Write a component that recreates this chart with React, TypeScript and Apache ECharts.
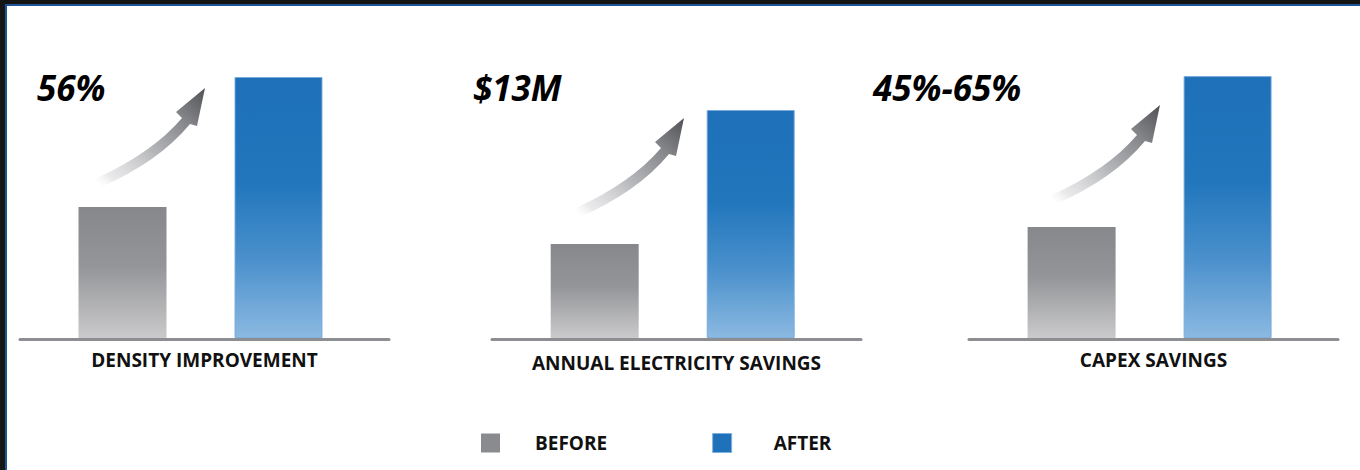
import React, { useEffect, useRef } from "react";
import * as echarts from "echarts";

// ---- data ----
const panels = ["DENSITY IMPROVEMENT", "ANNUAL ELECTRICITY SAVINGS", "CAPEX SAVINGS"];
const headlines = ["56%", "$13M", "45%-65%"];
const phases = ["BEFORE", "AFTER"];
const beforeValues = [43.7, 31.3, 37];
const afterValues = [87, 76, 87.3];

// ---- layout ----
const FONT = "'Open Sans', 'Noto Sans', sans-serif";
const barGridLeft = [44.5, 516.7, 993.6];
const barGridWidth = 312;
const baseLeft = [20, 492, 969];
const baseWidth = 369;
const nameGaps = [11, 14, 11];
const headlineLeft = [37, 473, 873];
const arrowPos = [
  [98, 183],
  [577, 213],
  [1053, 200],
];
const ARROW_D =
  "M -2 -4.5 Q 55 -30.7 84 -65 L 78 -71 L 107 -95 L 99 -57 L 92 -59 Q 61 -21.3 2 4.5 Z";

let registered = false;

export default function App() {
  const ref = useRef<HTMLDivElement>(null);

  useEffect(() => {
    if (!ref.current) return;
    if (!registered) {
      echarts.graphic.registerShape("logo", echarts.graphic.extendPath(ARROW_D, {}));
      registered = true;
    }
    const chart = echarts.init(ref.current, null, { renderer: "svg" });

    const grayGrad = new echarts.graphic.LinearGradient(0, 0, 0, 1, [
      { offset: 0, color: "#87888c" },
      { offset: 0.45, color: "#949598" },
      { offset: 1, color: "#cacacc" },
    ]);
    const blueGrad = new echarts.graphic.LinearGradient(0, 0, 0, 1, [
      { offset: 0, color: "#1e71b8" },
      { offset: 0.4, color: "#2176bc" },
      { offset: 0.7, color: "#4a90cc" },
      { offset: 1, color: "#8bb9e1" },
    ]);
    const arrowGrad = () =>
      new echarts.graphic.LinearGradient(0, 1, 1, 0, [
        { offset: 0, color: "rgba(255,255,255,0)" },
        { offset: 0.12, color: "rgba(225,225,227,0.7)" },
        { offset: 0.45, color: "#b4b5b8" },
        { offset: 0.75, color: "#848589" },
        { offset: 1, color: "#515256" },
      ]);

    const grid: any[] = [];
    const xAxis: any[] = [];
    const yAxis: any[] = [];
    const series: any[] = [];

    panels.forEach((p, i) => {
      grid.push({ left: barGridLeft[i], width: barGridWidth, top: 38, bottom: 132 });
      xAxis.push({ gridIndex: i, type: "category", data: phases, show: false });
      yAxis.push({ gridIndex: i, type: "value", min: 0, max: 100, show: false });
      series.push({
        type: "bar",
        name: phases[0],
        xAxisIndex: i,
        yAxisIndex: i,
        stack: "p" + i,
        barWidth: 88,
        data: [beforeValues[i], null],
        itemStyle: { color: grayGrad },
        z: 3,
      });
      series.push({
        type: "bar",
        name: phases[1],
        xAxisIndex: i,
        yAxisIndex: i,
        stack: "p" + i,
        barWidth: 88,
        data: [null, afterValues[i]],
        itemStyle: { color: blueGrad, borderColor: "rgba(120,170,220,0.9)", borderWidth: 1 },
        z: 3,
      });
    });
    panels.forEach((p, i) => {
      grid.push({ left: baseLeft[i], width: baseWidth, top: 38, bottom: 130.5 });
      xAxis.push({
        gridIndex: 3 + i,
        type: "category",
        data: phases,
        axisLine: { show: true, lineStyle: { color: "#8d8e92", width: 3 } },
        axisTick: { show: false },
        axisLabel: { show: false },
        name: p,
        nameLocation: "middle",
        nameGap: nameGaps[i],
        nameTextStyle: { fontFamily: FONT, fontSize: 19, fontWeight: "bold", color: "#111" },
      });
      yAxis.push({ gridIndex: 3 + i, type: "value", show: false });
    });

    const title = headlines.map((h, i) => ({
      text: h,
      left: headlineLeft[i],
      top: 70,
      padding: 0,
      textStyle: {
        fontFamily: FONT,
        fontSize: 35,
        fontWeight: "bold",
        fontStyle: "italic",
        color: "#000",
      },
    }));

    const graphic: any[] = [
      { type: "rect", shape: { x: 0, y: 0, width: 1360, height: 4 }, style: { fill: "#141414" } },
      { type: "rect", shape: { x: 0, y: 0, width: 5, height: 470 }, style: { fill: "#161616" } },
      { type: "rect", shape: { x: 5, y: 4, width: 1355, height: 2 }, style: { fill: "#1d5597" } },
      { type: "rect", shape: { x: 5, y: 4, width: 2, height: 466 }, style: { fill: "#1d5597" } },
      ...arrowPos.map(([x, y]) => ({
        type: "logo",
        x,
        y,
        scaleX: 1,
        scaleY: 1,
        style: { fill: arrowGrad() },
      })),
    ];

    const legendText = {
      fontFamily: FONT,
      fontSize: 19,
      fontWeight: "bold",
      color: "#111",
    };

    chart.setOption({
      animation: false,
      backgroundColor: "#ffffff",
      title,
      legend: {
        left: 481,
        top: 433,
        padding: 0,
        itemWidth: 19,
        itemHeight: 19,
        itemGap: 105,
        icon: "rect",
        selectedMode: false,
        data: [
          {
            name: phases[0],
            itemStyle: { color: "#8a8b8f" },
            textStyle: { ...legendText, padding: [0, 0, 0, 30] },
          },
          {
            name: phases[1],
            itemStyle: { color: "#1f72b9", borderColor: "#7fb0dc", borderWidth: 1 },
            textStyle: { ...legendText, padding: [0, 0, 0, 37] },
          },
        ],
        textStyle: { ...legendText, padding: [0, 0, 0, 30] },
      },
      grid,
      xAxis,
      yAxis,
      series,
      graphic,
    });

    return () => chart.dispose();
  }, []);

  return (
    <div
      ref={ref}
      style={{ position: "absolute", left: 0, top: 0, width: 1360, height: 470, background: "#fff" }}
    />
  );
}
